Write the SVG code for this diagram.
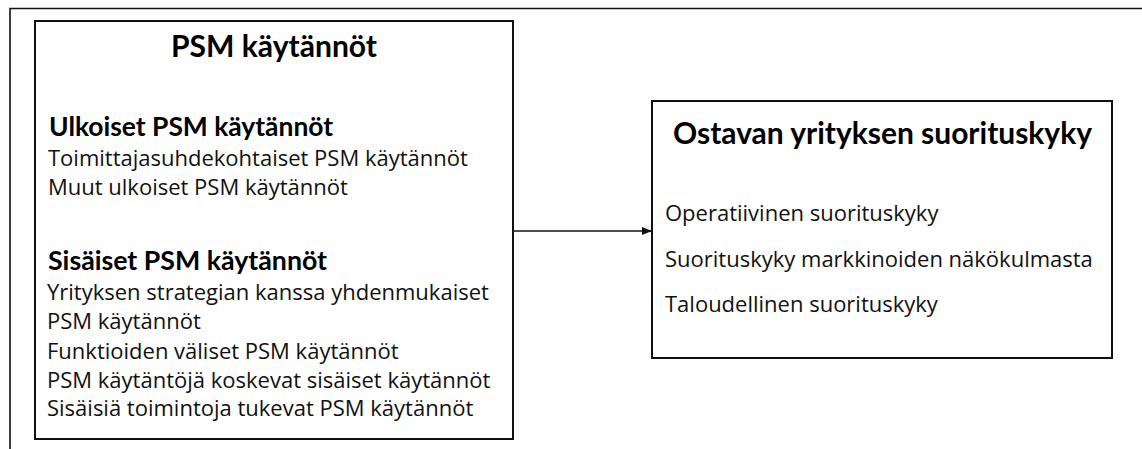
<svg xmlns="http://www.w3.org/2000/svg" width="1142" height="449" viewBox="0 0 1142 449">
<style>
.box{fill:#fff;stroke:#111;stroke-width:2}
.frame{fill:none;stroke:#111;stroke-width:1.6}
.title{font-family:Lato,"Liberation Sans",sans-serif;font-weight:bold;font-size:30px;fill:#000}
.head{font-family:Lato,"Liberation Sans",sans-serif;font-weight:bold;font-size:26px;fill:#000}
.body{font-family:"Open Sans","Liberation Sans",sans-serif;font-size:22px;fill:#111}
.conn{stroke:#111;stroke-width:1.3;fill:none}
</style>
<defs>
<marker id="arrow" viewBox="0 0 10 8" refX="10" refY="4" markerWidth="10" markerHeight="8" markerUnits="userSpaceOnUse" orient="auto">
<path d="M0,0 L10,4 L0,8 Z" fill="#111"/>
</marker>
</defs>
<rect width="1142" height="449" fill="#fff"/>
<path class="frame" d="M10,449 V8.5 H1142"/>
<g id="psm-kaytannot">
<rect class="box" x="35" y="21" width="478" height="418"/>
<text class="title" x="274" y="57" text-anchor="middle" textLength="206" lengthAdjust="spacingAndGlyphs">PSM käytännöt</text>
<text class="head" x="49" y="136" textLength="284" lengthAdjust="spacingAndGlyphs">Ulkoiset PSM käytännöt</text>
<text class="body" x="48" y="166">Toimittajasuhdekohtaiset PSM käytännöt</text>
<text class="body" x="48" y="195">Muut ulkoiset PSM käytännöt</text>
<text class="head" x="48" y="270" textLength="279" lengthAdjust="spacingAndGlyphs">Sisäiset PSM käytännöt</text>
<text class="body" x="47" y="300">Yrityksen strategian kanssa yhdenmukaiset</text>
<text class="body" x="47" y="329">PSM käytännöt</text>
<text class="body" x="47" y="359">Funktioiden väliset PSM käytännöt</text>
<text class="body" x="47" y="388">PSM käytäntöjä koskevat sisäiset käytännöt</text>
<text class="body" x="47" y="416">Sisäisiä toimintoja tukevat PSM käytännöt</text>
</g>
<g id="suorituskyky">
<rect class="box" x="652" y="101" width="460" height="257"/>
<text class="title" x="673" y="144" textLength="419" lengthAdjust="spacingAndGlyphs">Ostavan yrityksen suorituskyky</text>
<text class="body" x="665" y="221">Operatiivinen suorituskyky</text>
<text class="body" x="665" y="267">Suorituskyky markkinoiden näkökulmasta</text>
<text class="body" x="665" y="312">Taloudellinen suorituskyky</text>
</g>
<g id="connectors">
<line class="conn" x1="513" y1="231" x2="652" y2="231" marker-end="url(#arrow)"/>
</g>
</svg>
